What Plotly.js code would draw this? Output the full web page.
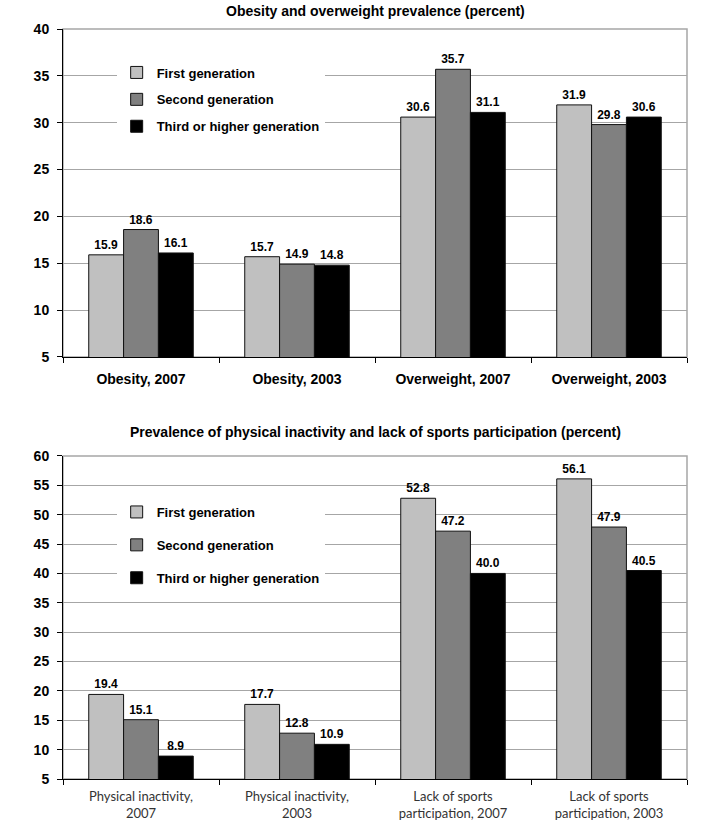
<!DOCTYPE html>
<html><head><meta charset="utf-8">
<script src="https://cdn.plot.ly/plotly-3.0.1.min.js"></script>
<style>body{margin:0;background:#fff}#chart{width:728px;height:827px}</style>
</head><body><div id="chart"></div>
<script>
const seriesNames = ["First generation", "Second generation", "Third or higher generation"];
const seriesColors = ["#c0c0c0", "#808080", "#000000"];

const topCategories = ["Obesity, 2007", "Obesity, 2003", "Overweight, 2007", "Overweight, 2003"];
const topFirst  = [15.9, 15.7, 30.6, 31.9];
const topSecond = [18.6, 14.9, 35.7, 29.8];
const topThird  = [16.1, 14.8, 31.1, 30.6];

const bottomCategories = ["Physical inactivity,<br>2007", "Physical inactivity,<br>2003", "Lack of sports<br>participation, 2007", "Lack of sports<br>participation, 2003"];
const bottomFirst  = [19.4, 17.7, 52.8, 56.1];
const bottomSecond = [15.1, 12.8, 47.2, 47.9];
const bottomThird  = [8.9, 10.9, 40.0, 40.5];

const topTitle = "Obesity and overweight prevalence (percent)";
const bottomTitle = "Prevalence of physical inactivity and lack of sports participation (percent)";

const boldFont = "'Liberation Sans', Arial, sans-serif";
const lightFont = "Lato, 'Open Sans', sans-serif";

const topVals = [topFirst, topSecond, topThird];
const bottomVals = [bottomFirst, bottomSecond, bottomThird];

const traces = [];
for (let i = 0; i < 3; i++) {
  traces.push({
    type: 'bar', x: topCategories, y: topVals[i], name: seriesNames[i],
    xaxis: 'x', yaxis: 'y', legend: 'legend', legendgroup: 't' + i,
    marker: {color: seriesColors[i], line: {color: '#111', width: 1}},
    texttemplate: '%{y:.1f}', textposition: 'outside', cliponaxis: false,
    textfont: {family: boldFont, size: 12, color: '#000', weight: 'bold'},
    hoverinfo: 'skip'
  });
}
for (let i = 0; i < 3; i++) {
  traces.push({
    type: 'bar', x: bottomCategories, y: bottomVals[i], name: seriesNames[i],
    xaxis: 'x2', yaxis: 'y2', legend: 'legend2', legendgroup: 'b' + i,
    marker: {color: seriesColors[i], line: {color: '#111', width: 1}},
    texttemplate: '%{y:.1f}', textposition: 'outside', cliponaxis: false,
    textfont: {family: boldFont, size: 12, color: '#000', weight: 'bold'},
    hoverinfo: 'skip'
  });
}

const tickFontBold = {family: boldFont, size: 14, color: '#000', weight: 'bold'};
const yCommon = {
  dtick: 5, showgrid: true, gridcolor: '#a6a6a6', gridwidth: 1,
  showline: true, linecolor: '#000', linewidth: 1,
  ticks: 'outside', ticklen: 5, tickcolor: '#000', ticklabelstandoff: 5,
  tickfont: tickFontBold, zeroline: false, fixedrange: true
};
const xCommon = {
  type: 'category', showline: true, linecolor: '#000', linewidth: 1,
  ticks: 'outside', tickson: 'boundaries', ticklen: 5, tickcolor: '#000',
  showgrid: false, fixedrange: true
};

const legendCommon = {
  bgcolor: '#fff', borderwidth: 0, traceorder: 'grouped', tracegroupgap: 7,
  font: {family: boldFont, size: 13, color: '#000', weight: 'bold'},
  xanchor: 'left', yanchor: 'top'
};

const layout = {
  width: 728, height: 827,
  margin: {l: 63, r: 41, t: 29, b: 48},
  paper_bgcolor: '#fff', plot_bgcolor: '#fff',
  barmode: 'group', bargap: 0.33, bargroupgap: 0,
  showlegend: true,
  xaxis: Object.assign({}, xCommon, {anchor: 'y', domain: [0, 1], ticklabelstandoff: 9,
    tickfont: {family: boldFont, size: 14, color: '#000', weight: 'bold'}}),
  yaxis: Object.assign({}, yCommon, {anchor: 'x', domain: [0.5627, 1], range: [5, 40]}),
  xaxis2: Object.assign({}, xCommon, {anchor: 'y2', domain: [0, 1], ticklabelstandoff: 5,
    tickfont: {family: lightFont, size: 13, color: '#333'}}),
  yaxis2: Object.assign({}, yCommon, {anchor: 'x2', domain: [0, 0.4307], range: [5, 60]}),
  legend: Object.assign({}, legendCommon, {x: 0.086, y: 0.962}),
  legend2: Object.assign({}, legendCommon, {x: 0.086, y: 0.376, tracegroupgap: 13}),
  shapes: [
    {type: 'rect', xref: 'x domain', yref: 'y domain', x0: 0, x1: 1, y0: 0, y1: 1,
     line: {color: '#a6a6a6', width: 1.5}, layer: 'below'},
    {type: 'rect', xref: 'x2 domain', yref: 'y2 domain', x0: 0, x1: 1, y0: 0, y1: 1,
     line: {color: '#a6a6a6', width: 1.5}, layer: 'below'}
  ],
  annotations: [
    {text: topTitle, xref: 'paper', yref: 'paper', x: 0.5, y: 1.0235, showarrow: false,
     xanchor: 'center', yanchor: 'middle',
     font: {family: boldFont, size: 14, color: '#000', weight: 'bold'}},
    {text: bottomTitle, xref: 'paper', yref: 'paper', x: 0.5, y: 0.4627, showarrow: false,
     xanchor: 'center', yanchor: 'middle',
     font: {family: boldFont, size: 14, color: '#000', weight: 'bold'}}
  ]
};

Plotly.newPlot('chart', traces, layout, {displayModeBar: false, staticPlot: true});
</script>
</body></html>
